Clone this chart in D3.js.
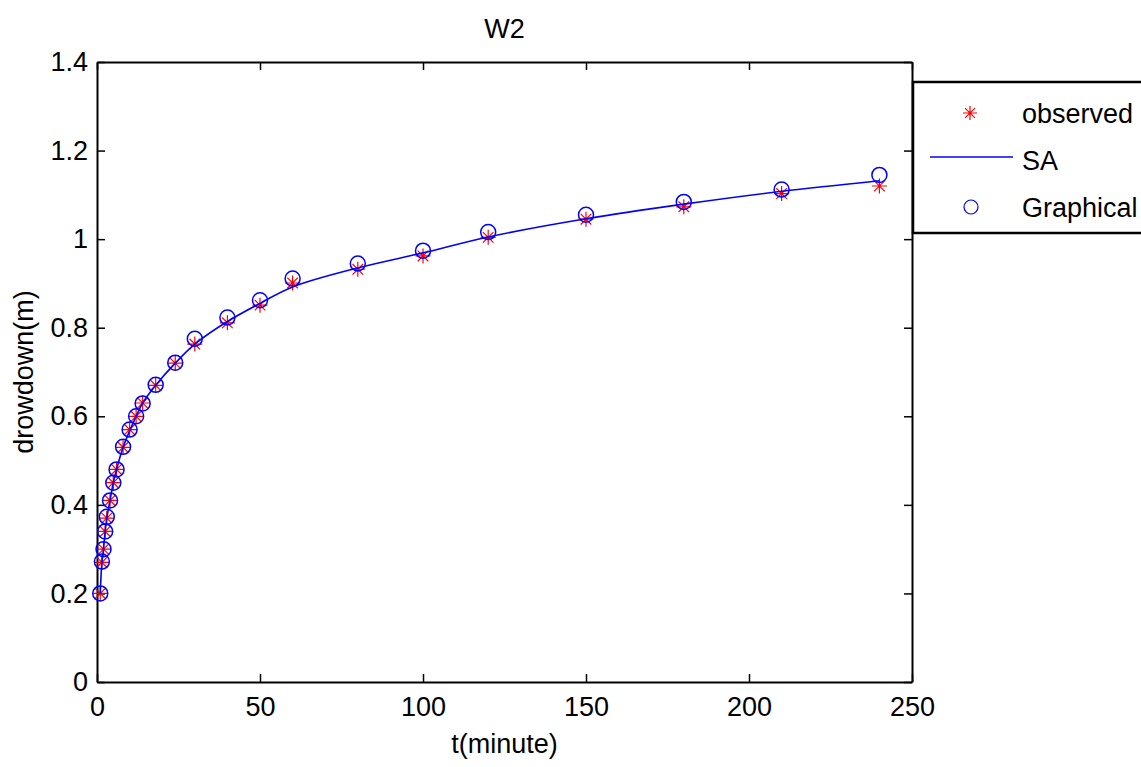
<!DOCTYPE html>
<html>
<head>
<meta charset="utf-8">
<script src="https://cdn.jsdelivr.net/npm/d3@7"></script>
<style>
  body { margin: 0; background: #fff; }
  svg text { font-family: "Liberation Sans", Arial, sans-serif; fill: #000; }
</style>
</head>
<body>
<div id="one"></div>
<script>
// time (minutes) and drowdown (m)
var times     = [1, 1.5, 2, 2.5, 3, 4, 5, 6, 8, 10, 12, 14, 18, 24, 30, 40, 50, 60, 80, 100, 120, 150, 180, 210, 240]
var observed  = [0.20, 0.27, 0.30, 0.34, 0.37, 0.41, 0.45, 0.48, 0.53, 0.57, 0.60, 0.63, 0.67, 0.72, 0.763, 0.811, 0.851, 0.901, 0.932, 0.962, 1.004, 1.045, 1.073, 1.103, 1.12]
var saValues  = [0.20, 0.27, 0.30, 0.34, 0.37, 0.41, 0.45, 0.48, 0.53, 0.567, 0.60, 0.63, 0.67, 0.72, 0.763, 0.814, 0.855, 0.892, 0.935, 0.969, 1.005, 1.046, 1.079, 1.108, 1.132]
var graphical = [0.20, 0.272, 0.30, 0.34, 0.373, 0.41, 0.45, 0.48, 0.531, 0.57, 0.60, 0.629, 0.671, 0.721, 0.775, 0.823, 0.862, 0.911, 0.945, 0.974, 1.016, 1.055, 1.084, 1.112, 1.145]

var xTicks = [0, 50, 100, 150, 200, 250]
var yTicks = [0, 0.2, 0.4, 0.6, 0.8, 1, 1.2, 1.4]
var legendItems = ["observed", "SA", "Graphical"]

var width = 1141, height = 767
var margin = {left: 97, right: 229, top: 62, bottom: 85}

var svg = d3.select('#one')
  .append('svg')
  .attr("width", width)
  .attr("height", height)

var x = d3.scaleLinear()
  .domain([0, 250])
  .range([margin.left, width - margin.right])
var y = d3.scaleLinear()
  .domain([0, 1.4])
  .range([height - margin.bottom, margin.top])

var fontSize = "27px"
var tickLen = 8

// axes: left + bottom with labels, top + right mirrored ticks only
var xAxis = g => g
  .attr("transform", `translate(0,${y(0)})`)
  .call(d3.axisBottom(x).tickValues(xTicks).tickSizeInner(-tickLen).tickSizeOuter(0).tickPadding(15).tickFormat(d3.format("d")))
var yAxis = g => g
  .attr("transform", `translate(${x(0)},0)`)
  .call(d3.axisLeft(y).tickValues(yTicks).tickSizeInner(-tickLen).tickSizeOuter(0).tickPadding(9).tickFormat(d => d === 0 || d === 1 ? d3.format("d")(d) : d3.format(".1f")(d)))
var xTop = g => g
  .attr("transform", `translate(0,${y(1.4)})`)
  .call(d3.axisTop(x).tickValues(xTicks).tickSizeInner(-tickLen).tickSizeOuter(0).tickFormat(""))
var yRight = g => g
  .attr("transform", `translate(${x(250)},0)`)
  .call(d3.axisRight(y).tickValues(yTicks).tickSizeInner(-tickLen).tickSizeOuter(0).tickFormat(""))

;[xAxis, yAxis, xTop, yRight].forEach(a => {
  svg.append("g")
    .style("font-size", fontSize)
    .style("font-family", "Liberation Sans, Arial, sans-serif")
    .call(a)
    .call(g => g.select(".domain").attr("stroke", "#000").attr("stroke-width", 2))
    .call(g => g.selectAll(".tick line").attr("stroke", "#000").attr("stroke-width", 1.5))
    .call(g => g.selectAll(".tick text").attr("fill", "#000"))
})

// title and axis labels
svg.append("text")
  .attr("x", (x(0) + x(250)) / 2)
  .attr("y", 38)
  .attr("text-anchor", "middle")
  .style("font-size", fontSize)
  .text("W2")
svg.append("text")
  .attr("x", (x(0) + x(250)) / 2)
  .attr("y", 753)
  .attr("text-anchor", "middle")
  .style("font-size", fontSize)
  .text("t(minute)")
svg.append("text")
  .attr("transform", `translate(33,${(y(0) + y(1.4)) / 2}) rotate(-90)`)
  .attr("text-anchor", "middle")
  .style("font-size", fontSize)
  .text("drowdown(m)")

function star(g, r) {
  // matlab '*' marker: plus + cross
  var a = r * Math.SQRT1_2
  g.append("path")
    .attr("d", `M${-r},0L${r},0M0,${-r}L0,${r}M${-a},${-a}L${a},${a}M${-a},${a}L${a},${-a}`)
    .attr("stroke", "#ff0000")
    .attr("stroke-width", 1.2)
    .attr("fill", "none")
}

// observed stars
svg.append("g")
  .selectAll("g")
  .data(times)
  .enter()
  .append("g")
    .attr("transform", (d, i) => `translate(${x(d)},${y(observed[i])})`)
    .each(function() { star(d3.select(this), 7.5) })

// SA curve
var line = d3.line()
  .x((d, i) => x(times[i]))
  .y(d => y(d))
  .curve(d3.curveCatmullRom)
svg.append("path")
  .datum(saValues)
  .attr("fill", "none")
  .attr("stroke", "#0000ff")
  .attr("stroke-width", 1.6)
  .attr("d", line)

// graphical circles
svg.append("g")
  .selectAll("circle")
  .data(graphical)
  .enter()
  .append("circle")
    .attr("cx", (d, i) => x(times[i]))
    .attr("cy", d => y(d))
    .attr("r", 7.5)
    .attr("fill", "none")
    .attr("stroke", "#0000ff")
    .attr("stroke-width", 1.5)

// legend
var legend = svg.append("g")
legend.append("rect")
  .attr("x", 913)
  .attr("y", 82)
  .attr("width", 260)
  .attr("height", 151)
  .attr("fill", "#fff")
  .attr("stroke", "#000")
  .attr("stroke-width", 2.5)

var rowY = [113, 160, 207]
legendItems.forEach((name, i) => {
  var row = legend.append("g").attr("transform", `translate(0,${rowY[i]})`)
  if (i === 0) {
    row.append("g").attr("transform", "translate(970,0)").call(g => star(g, 7))
  } else if (i === 1) {
    row.append("line")
      .attr("x1", 930).attr("x2", 1013)
      .attr("y1", -3).attr("y2", -3)
      .attr("stroke", "#0000ff")
      .attr("stroke-width", 1.5)
  } else {
    row.append("circle")
      .attr("cx", 971).attr("cy", 0).attr("r", 7)
      .attr("fill", "none")
      .attr("stroke", "#0000ff")
      .attr("stroke-width", 1.2)
  }
  row.append("text")
    .attr("x", 1022)
    .attr("y", 10)
    .style("font-size", fontSize)
    .text(name)
})
</script>
</body>
</html>
